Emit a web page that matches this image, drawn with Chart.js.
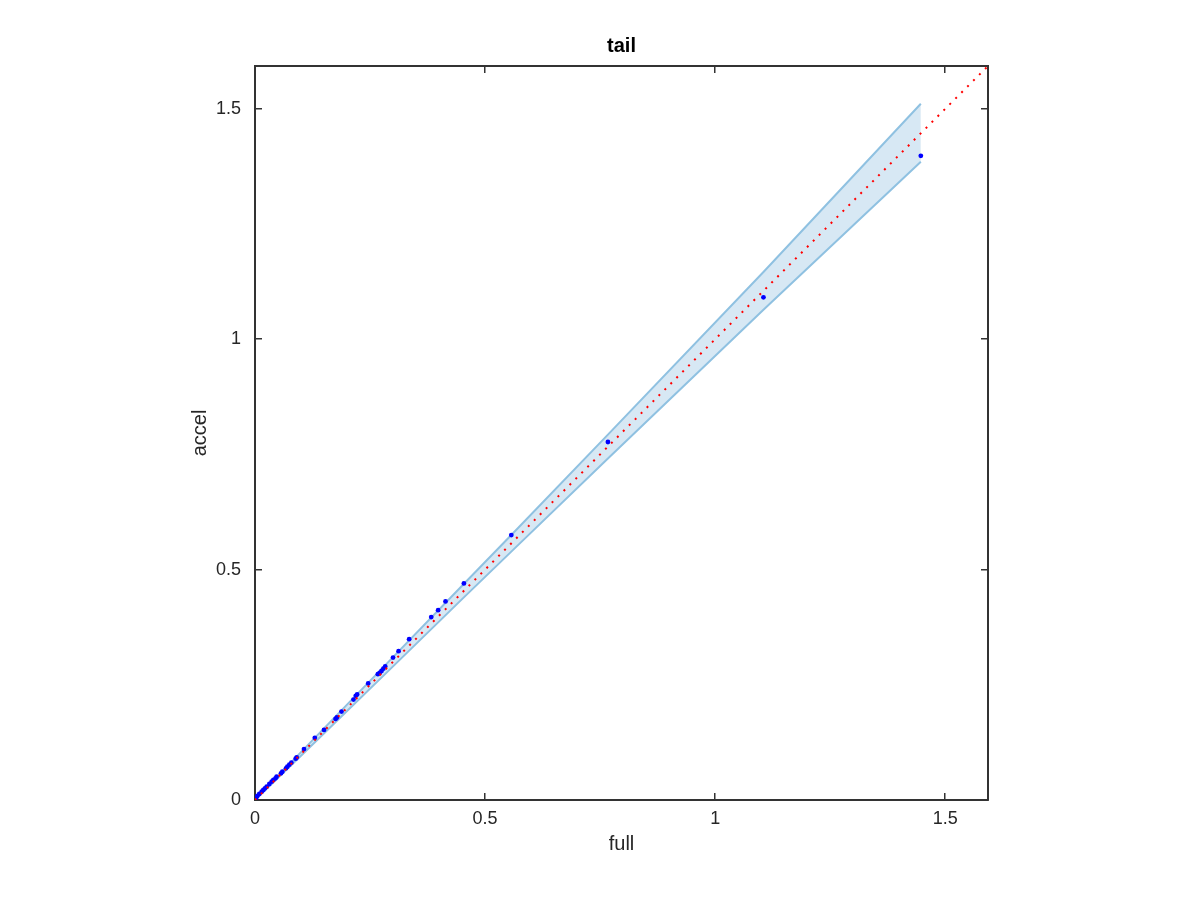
<!DOCTYPE html>
<html>
<head>
<meta charset="utf-8">
<title>tail</title>
<script src="https://cdn.jsdelivr.net/npm/chart.js@4/dist/chart.umd.min.js"></script>
<style>
  html, body { margin: 0; padding: 0; background: #fff; }
  #wrap { width: 1200px; height: 900px; }
</style>
</head>
<body>
<div id="wrap"><canvas id="c" width="1200" height="900"></canvas></div>
<script>
// scatter of accel vs full, with the confidence band and the y = x reference
const fullVals = [
  1.447, 1.105, 0.767, 0.557, 0.454, 0.414, 0.398, 0.383, 0.335, 0.312,
  0.300, 0.283, 0.279, 0.275, 0.271, 0.267, 0.246, 0.222, 0.219, 0.214,
  0.188, 0.178, 0.175, 0.150, 0.130, 0.1065, 0.0906, 0.0884, 0.079, 0.0746,
  0.0703, 0.0674, 0.0594, 0.0565, 0.047, 0.0446, 0.0399, 0.0362, 0.0312, 0.0254,
  0.0217, 0.0181, 0.0145, 0.0094, 0.0051, 0.002, 0.001, 0
];
const accelVals = [
  1.398, 1.091, 0.777, 0.575, 0.470, 0.431, 0.412, 0.397, 0.349, 0.323,
  0.309, 0.290, 0.285, 0.280, 0.276, 0.273, 0.253, 0.229, 0.226, 0.218,
  0.192, 0.179, 0.176, 0.152, 0.135, 0.1106, 0.0925, 0.0896, 0.081, 0.0766,
  0.0723, 0.0687, 0.0614, 0.0578, 0.0506, 0.047, 0.0434, 0.0398, 0.0347, 0.0289,
  0.0253, 0.0217, 0.0181, 0.013, 0.0087, 0.004, 0.002, 0
];

// band edges
const bandX     = [0, 0.1, 0.2, 0.3, 0.45, 0.557, 0.767, 1.105, 1.447];
const bandUpper = [0, 0.104, 0.207, 0.310, 0.465, 0.575, 0.793, 1.146, 1.511];
const bandLower = [0, 0.096, 0.193, 0.290, 0.436, 0.539, 0.741, 1.064, 1.385];

// y = x reference line
const diagX = [0, 1.593];
const diagY = [0, 1.593];

const tickVals = [0, 0.5, 1, 1.5];
const tickLabels = ['0', '0.5', '1', '1.5'];

const AX = 1.593;
const INK = '#262626';
const pts = (xs, ys) => xs.map((v, i) => ({ x: v, y: ys[i] }));

Chart.defaults.font.family = '"Liberation Sans", Arial, Helvetica, sans-serif';
Chart.defaults.color = INK;

function axis(pos, extra) {
  return Object.assign({
    type: 'linear',
    position: pos,
    min: 0, max: AX,
    ticks: {
      stepSize: 0.5, includeBounds: false,
      font: { size: 18 }, color: INK,
      callback: v => { const k = tickVals.indexOf(Math.round(v * 100) / 100); return k >= 0 ? tickLabels[k] : ''; },
    },
    grid: { drawOnChartArea: false, drawTicks: true, tickLength: -7, color: '#333333', lineWidth: 1.5 },
    border: { display: true, color: '#333333', width: 2 },
  }, extra);
}

new Chart(document.getElementById('c').getContext('2d'), {
  type: 'scatter',
  data: {
    datasets: [
      {
        label: 'upper', data: pts(bandX, bandUpper), showLine: true,
        borderColor: '#8fc1e1', borderWidth: 2, pointRadius: 0, fill: false, order: 3,
      },
      {
        label: 'lower', data: pts(bandX, bandLower), showLine: true,
        borderColor: '#8fc1e1', borderWidth: 2, pointRadius: 0,
        fill: '-1', backgroundColor: 'rgba(215,232,244,1)', order: 3,
      },
      {
        label: 'points', data: pts(fullVals, accelVals),
        pointRadius: 2.4, pointBackgroundColor: '#0000ff', pointBorderWidth: 0, order: 2,
      },
      {
        label: 'diag', data: pts(diagX, diagY), showLine: true,
        borderColor: '#ff0000', borderWidth: 2, borderDash: [2, 6.4], pointRadius: 0, order: 1,
      },
    ],
  },
  options: {
    responsive: false,
    animation: false,
    layout: { padding: { left: 0, right: 212, top: 0, bottom: 0 } },
    plugins: {
      legend: { display: false },
      tooltip: { enabled: false },
      title: {
        display: true, text: 'tail', fullSize: false, color: '#000',
        font: { size: 20, weight: 'bold' },
        padding: { top: 34, bottom: 8 },
      },
    },
    scales: {
      x: axis('bottom', {
        ticks: Object.assign(axis('bottom').ticks, { padding: 15, maxRotation: 0 }),
        title: { display: true, text: 'full', font: { size: 20 }, color: INK, padding: { top: 0, bottom: 44 } },
        afterFit: s => { s.height = 100; },
      }),
      y: axis('left', {
        ticks: Object.assign(axis('left').ticks, { padding: 21 }),
        title: { display: true, text: 'accel', font: { size: 20 }, color: INK, padding: { top: 188, bottom: 0 } },
        afterFit: s => { s.width = 255; },
      }),
      x2: axis('top', {
        ticks: Object.assign(axis('top').ticks, { display: false }),
        afterFit: s => { s.height = 0; },
      }),
      y2: axis('right', {
        ticks: Object.assign(axis('right').ticks, { display: false }),
        afterFit: s => { s.width = 0; },
      }),
    },
  },
});
</script>
</body>
</html>
